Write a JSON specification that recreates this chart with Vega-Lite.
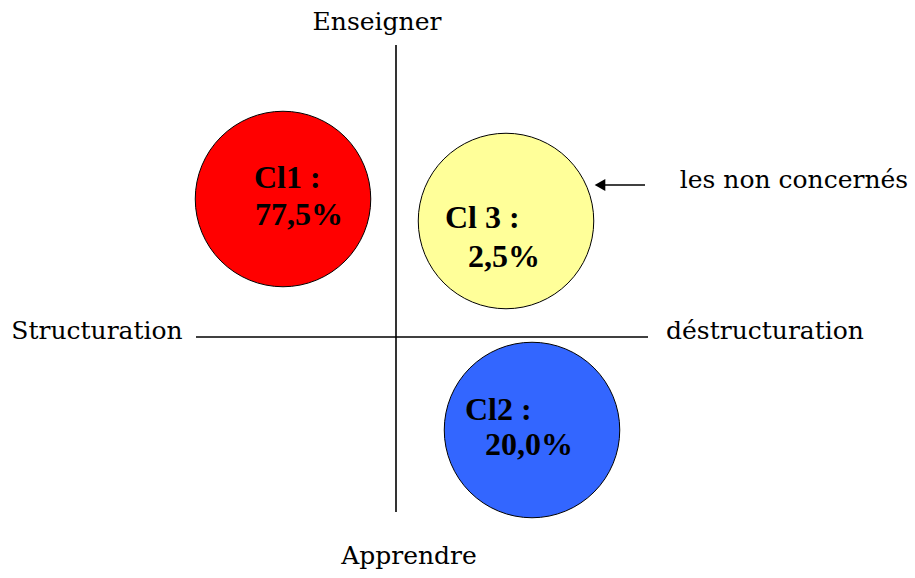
{
  "$schema": "https://vega.github.io/schema/vega-lite/v6.json",
  "width": 915,
  "height": 578,
  "padding": 0,
  "autosize": {"type": "fit", "contains": "padding"},
  "background": "white",
  "config": {"view": {"stroke": null}},
  "datasets": {
    "clusters": [
      {"cluster": "Cl1", "x": -113, "y": 138, "share": 77.5},
      {"cluster": "Cl3", "x": 110, "y": 116, "share": 2.5},
      {"cluster": "Cl2", "x": 136, "y": -93, "share": 20.0}
    ],
    "clusterText": [
      {"label": "Cl1 :", "x": -142, "y": 159},
      {"label": "77,5%", "x": -141, "y": 122},
      {"label": "Cl 3 :", "x": 49, "y": 119},
      {"label": "2,5%", "x": 72, "y": 80},
      {"label": "Cl2 :", "x": 69, "y": -73},
      {"label": "20,0%", "x": 89, "y": -108}
    ],
    "axisText": [
      {"label": "Enseigner", "x": -19, "y": 315},
      {"label": "Apprendre", "x": 13, "y": -219},
      {"label": "Structuration", "x": -299, "y": 6},
      {"label": "déstructuration", "x": 369, "y": 6},
      {"label": "les non concernés", "x": 398, "y": 157}
    ],
    "lines": [
      {"name": "vertical", "x": 0, "x2": 0, "y": 292, "y2": -175},
      {"name": "horizontal", "x": -200, "x2": 252, "y": 0, "y2": 0},
      {"name": "arrow", "x": 249, "x2": 206, "y": 152, "y2": 152}
    ],
    "arrowHead": [
      {"x": 204, "y": 152}
    ]
  },
  "encoding": {
    "x": {"type": "quantitative", "scale": {"domain": [-396, 519], "nice": false, "zero": false}, "axis": null},
    "y": {"type": "quantitative", "scale": {"domain": [-241, 337], "nice": false, "zero": false}, "axis": null}
  },
  "layer": [
    {
      "data": {"name": "lines"},
      "mark": {"type": "rule", "color": "black", "strokeWidth": 1.6},
      "encoding": {
        "x": {"field": "x", "type": "quantitative"},
        "x2": {"field": "x2"},
        "y": {"field": "y", "type": "quantitative"},
        "y2": {"field": "y2"}
      }
    },
    {
      "data": {"name": "arrowHead"},
      "mark": {"type": "point", "shape": "triangle-left", "filled": true, "color": "black", "size": 150, "opacity": 1},
      "encoding": {
        "x": {"field": "x", "type": "quantitative"},
        "y": {"field": "y", "type": "quantitative"}
      }
    },
    {
      "data": {"name": "clusters"},
      "mark": {"type": "point", "shape": "circle", "filled": true, "size": 30800, "stroke": "black", "strokeWidth": 1, "opacity": 1},
      "encoding": {
        "x": {"field": "x", "type": "quantitative"},
        "y": {"field": "y", "type": "quantitative"},
        "fill": {"field": "cluster", "type": "nominal", "scale": {"domain": ["Cl1", "Cl3", "Cl2"], "range": ["#FF0000", "#FFFF99", "#3366FF"]}, "legend": null}
      }
    },
    {
      "data": {"name": "clusterText"},
      "mark": {"type": "text", "align": "left", "baseline": "middle", "font": "Liberation Serif", "fontWeight": "bold", "fontSize": 32, "color": "black"},
      "encoding": {
        "x": {"field": "x", "type": "quantitative"},
        "y": {"field": "y", "type": "quantitative"},
        "text": {"field": "label"}
      }
    },
    {
      "data": {"name": "axisText"},
      "mark": {"type": "text", "align": "center", "baseline": "middle", "font": "DejaVu Serif", "fontSize": 25, "color": "black"},
      "encoding": {
        "x": {"field": "x", "type": "quantitative"},
        "y": {"field": "y", "type": "quantitative"},
        "text": {"field": "label"}
      }
    }
  ]
}
